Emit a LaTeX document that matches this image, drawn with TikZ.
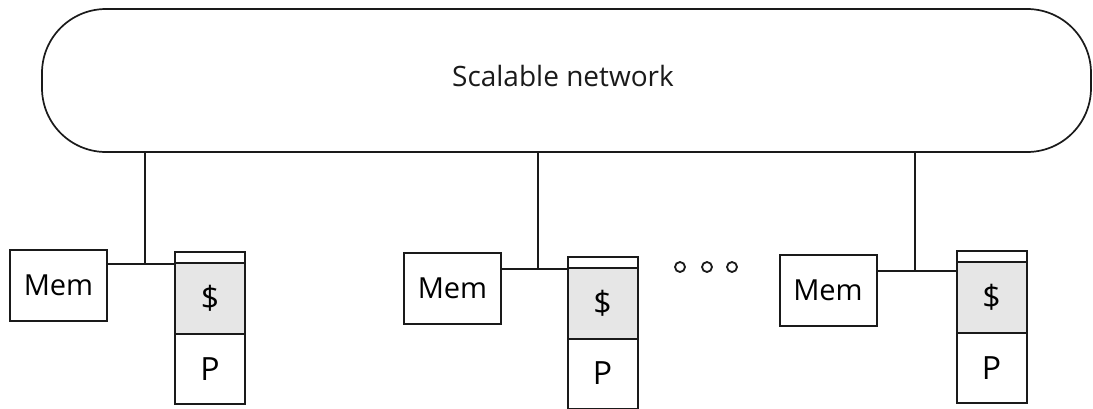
\documentclass[tikz,border=0pt]{standalone}
\usepackage{fontspec}
\setmainfont{Open Sans}
\usetikzlibrary{positioning}
\definecolor{NWInk}{HTML}{1A1A1A}
\definecolor{NWShade}{HTML}{E6E6E6}
\tikzset{
  wire/.style={NWInk,line width=0.85pt},
  netcloud/.style={draw=NWInk,line width=0.85pt,rounded corners=32pt,
                   minimum width=524.5pt,minimum height=71.5pt,inner sep=0pt},
  membox/.style={draw=NWInk,line width=1pt,minimum width=48.5pt,minimum height=35.5pt,
                 inner sep=0pt,font=\fontsize{14.5}{16}\selectfont},
  tagstrip/.style={draw=NWInk,line width=1pt,minimum width=35pt,minimum height=5.5pt,
                   inner sep=0pt,outer sep=0pt},
  cachebox/.style={tagstrip,fill=NWShade,minimum height=35.5pt,font=\fontsize{16}{18}\selectfont},
  procbox/.style={tagstrip,minimum height=35pt,font=\fontsize{16}{18}\selectfont},
  moredot/.style={circle,draw=NWInk,line width=0.9pt,minimum size=5pt,inner sep=0pt},
  netlabel/.style={text=NWInk,font=\fontsize{14}{16}\selectfont},
}
\begin{document}
\begin{tikzpicture}[x=0.5pt,y=-0.5pt]
    \useasboundingbox (0,0) rectangle (1093,408);
    \node[netcloud] (net) at (566.5,80.5) {};
    \node[netlabel] (netname) at (563,76) {Scalable network};

    % one memory + cache/processor stack per node
    \foreach \i/\mx/\my/\sx/\sy/\tx/\ty in {1/58.5/285/175/252/145/264,
                                           2/452.5/288.5/567.5/256.5/538/269,
                                           3/828/290/956.5/251/915/271}{
      \node[membox] (mem\i) at (\mx,\my) {Mem};
      \node[tagstrip,anchor=north west] (tag\i) at (\sx,\sy) {};
      \node[cachebox,below=0pt of tag\i] (cache\i) {\$};
      \node[procbox,below=0pt of cache\i] (proc\i) {P};
      \coordinate (tap\i) at (\tx,\ty);
      \draw[wire] (net.south -| tap\i) -- (tap\i);
      \draw[wire] (mem\i.east |- tap\i) -- (tap\i -| cache\i.west);
    }

    \node[moredot] (dot1) at (680,267) {};
    \node[moredot,right=13.5pt of dot1.center,anchor=center] (dot2) {};
    \node[moredot,right=12.5pt of dot2.center,anchor=center] (dot3) {};
\end{tikzpicture}
\end{document}
